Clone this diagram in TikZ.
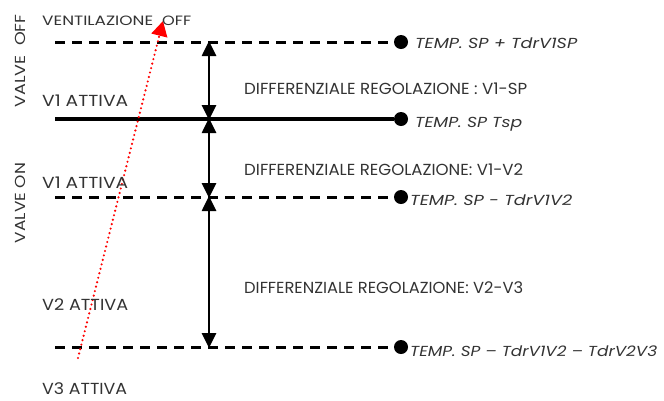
\documentclass[tikz,border=0pt]{standalone}
\usepackage{fontspec}
\setmainfont{Poppins}
\usetikzlibrary{arrows.meta}
\definecolor{txt}{HTML}{333333}
\newcommand{\fitw}[2]{\resizebox{#1}{\height}{#2}}
\begin{document}
\begin{tikzpicture}[x=1pt,y=-1pt,
  lbl/.style={anchor=base west,inner sep=0pt,text=txt,font=\fontsize{16}{18}\selectfont},
  slbl/.style={lbl,font=\fontsize{13.5}{16}\selectfont},
  vlbl/.style={anchor=center,inner sep=0pt,text=txt,rotate=90,font=\fontsize{14.5}{16}\selectfont},
  tlbl/.style={anchor=base west,inner sep=0pt,text=txt,font=\fontsize{14.5}{17}\selectfont\itshape},
  dline/.style={line width=3pt,dash pattern=on 10pt off 7pt},
  sline/.style={line width=4pt},
  dim/.style={line width=2.6pt,{Triangle[length=15pt,width=14pt]}-{Triangle[length=15pt,width=14pt]},shorten <=-1pt,shorten >=-1pt},
  dot/.style={circle,fill=black,minimum size=14pt,inner sep=0pt}]
\useasboundingbox (0,0) rectangle (664,400);
% left ends and dots
\coordinate (l1) at (55,42);
\coordinate (l2) at (55,119);
\coordinate (l3) at (55,197);
\coordinate (l4) at (55,347);
\node[dot] (d1) at (401,42) {};
\node[dot] (d2) at (401,119) {};
\node[dot] (d3) at (401,197) {};
\node[dot] (d4) at (401,347) {};
\draw[dline] (l1) -- (d1.west);
\draw[sline] (l2) -- (d2.west);
\draw[dline] (l3) -- (d3.west);
\draw[dline] (l4) -- (d4.west);
% dimension arrows
\coordinate (a1) at (209,42);
\coordinate (a2) at (209,119);
\coordinate (a3) at (209,197);
\coordinate (a4) at (209,347);
\draw[dim] (a1) -- (a2);
\draw[dim] (a2) -- (a3);
\draw[dim] (a3) -- (a4);
% red dotted
\coordinate (r1) at (78,358);
\coordinate (r2) at (163,21);
\draw[red,line width=2.4pt,line cap=round,dash pattern=on 0pt off 4.6pt,-{Triangle[length=15pt,width=16pt,line cap=butt]}] (r1) -- (r2);
% left labels
\node[slbl] (t1) at (42,25) {\fitw{111pt}{VENTILAZIONE}\hspace{9pt}\fitw{29pt}{OFF}};
\node[lbl] (t2) at (42,106) {\fitw{86pt}{V1 ATTIVA}};
\node[lbl] (t3) at (42,188) {\fitw{86pt}{V1 ATTIVA}};
\node[lbl] (t4) at (42,310) {\fitw{86pt}{V2 ATTIVA}};
\node[lbl] (t5) at (42,394) {\fitw{85pt}{V3 ATTIVA}};
\node[vlbl] (v1) at (20,61) {\fitw{93pt}{VALVE\ \ OFF}};
\node[vlbl] (v2) at (20,203) {\fitw{80pt}{VALVE ON}};
% middle labels
\node[lbl] (m1) at (244,94) {\fitw{283pt}{DIFFERENZIALE REGOLAZIONE : V1-SP}};
\node[lbl] (m2) at (244,175) {\fitw{279pt}{DIFFERENZIALE REGOLAZIONE: V1-V2}};
\node[lbl] (m3) at (244,293) {\fitw{279pt}{DIFFERENZIALE REGOLAZIONE: V2-V3}};
% right labels
\node[tlbl] (s1) at (415,48) {\fitw{162pt}{TEMP. SP + TdrV1SP}};
\node[tlbl] (s2) at (415,127) {\fitw{107pt}{TEMP. SP Tsp}};
\node[tlbl] (s3) at (410,205) {\fitw{162pt}{TEMP. SP - TdrV1V2}};
\node[tlbl] (s4) at (410,356) {\fitw{247pt}{TEMP. SP -- TdrV1V2 -- TdrV2V3}};
\end{tikzpicture}
\end{document}
